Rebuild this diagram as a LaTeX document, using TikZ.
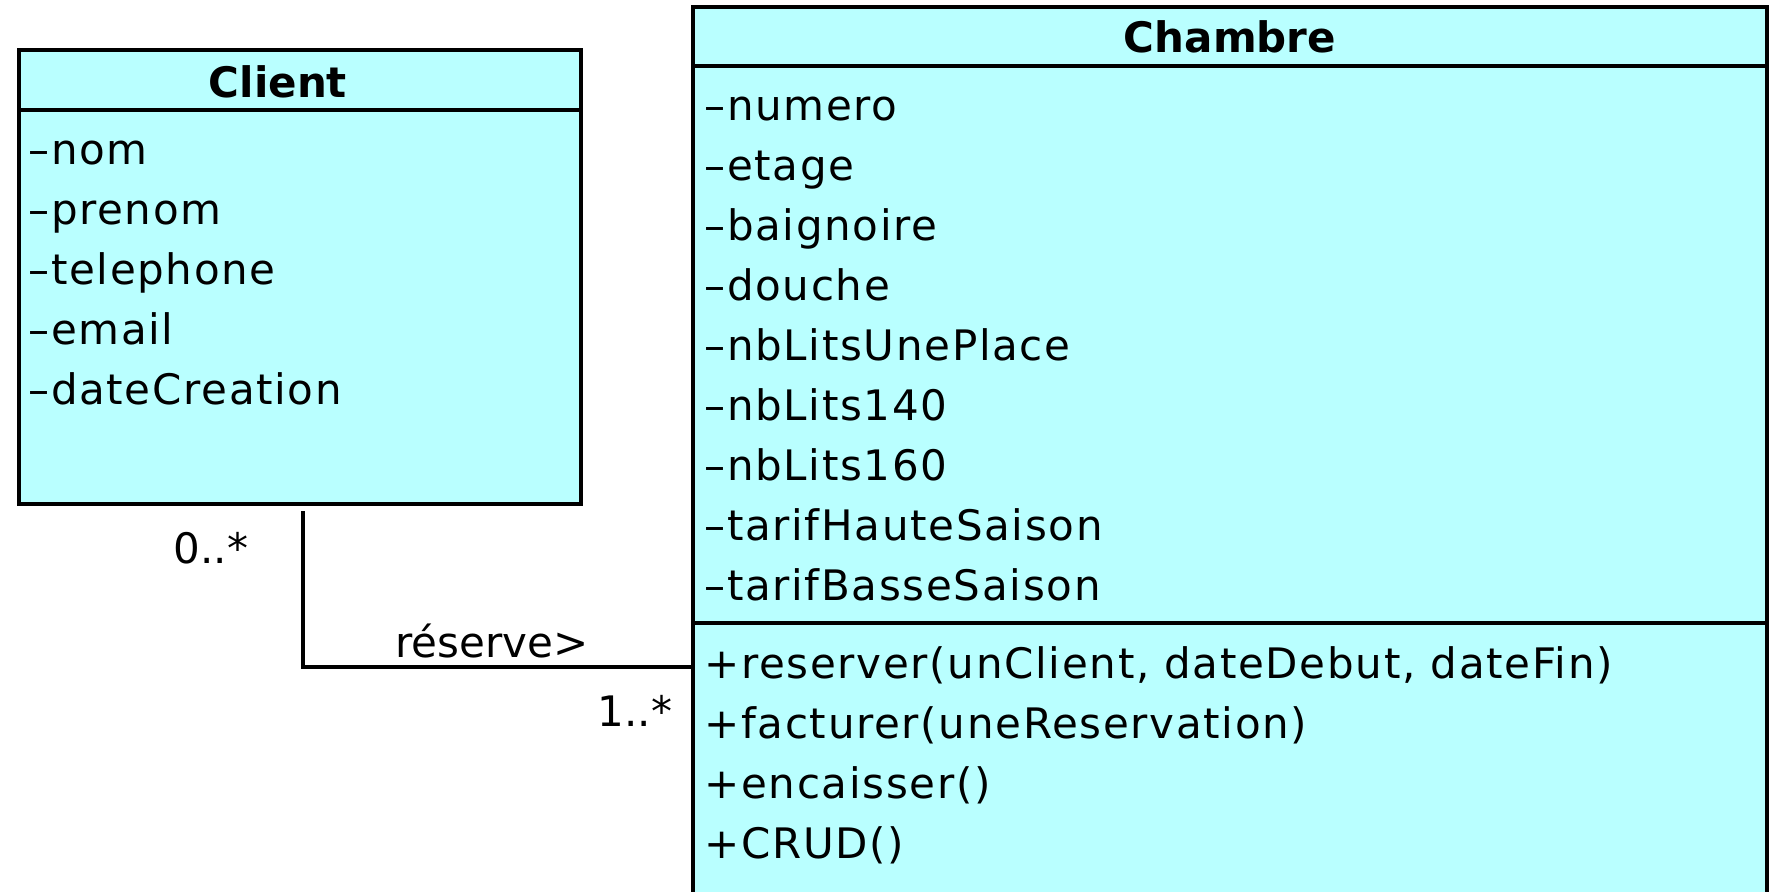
\documentclass[tikz,border=0pt]{standalone}
\usepackage{fontspec}
\setmainfont{DejaVu Sans}
\newfontfamily\memberfont[LetterSpace=4]{DejaVu Sans}
\usepackage{tikz}
\usetikzlibrary{positioning}
\definecolor{umlcyan}{RGB}{185,255,255}

\tikzset{
	classbox/.style={draw=black, fill=umlcyan, line width=1.8pt, inner sep=0pt},
	classname/.style={inner sep=0pt, font=\fontsize{21}{25}\selectfont\bfseries},
	member/.style={anchor=base west, inner sep=0pt, font=\memberfont\fontsize{21}{25}\selectfont},
	multlabel/.style={inner sep=0pt, font=\fontsize{21}{25}\selectfont},
	assoc/.style={draw=black, line width=1.8pt}
}

\begin{document}
\begin{tikzpicture}[x=0.5pt, y=-0.5pt]

		\useasboundingbox (0,0) rectangle (1778,891);
		\clip (0,0) rectangle (1778,891);

		\node[classbox, minimum width=281pt, minimum height=227pt] (client) at (300, 277) {};
		\node[classbox, minimum width=537pt, minimum height=471.5pt] (chambre) at (1230, 478.5) {};

		\draw[line width=1.8pt] (client.west |- 0,110) -- (client.east |- 0,110);
		\draw[line width=1.8pt] (chambre.west |- 0,66) -- (chambre.east |- 0,66);
		\draw[line width=1.8pt] (chambre.west |- 0,623) -- (chambre.east |- 0,623);

		\node[classname] (client-name)  at (278, 82) {Client};
		\node[classname] (chambre-name) at (1230, 37) {Chambre};

		\foreach \attr [count=\i] in {nom,prenom,telephone,email,dateCreation}
			\node[member] (client-attr-\i) at (28, 104+60*\i) {\textendash\attr};

		\foreach \attr [count=\i] in {numero,etage,baignoire,douche,nbLitsUnePlace,nbLits140,nbLits160,tarifHauteSaison,tarifBasseSaison}
			\node[member] (chambre-attr-\i) at (704, 60+60*\i) {\textendash\attr};

		\foreach \op [count=\i] in {{reserver(unClient, dateDebut, dateFin)},{facturer(uneReservation)},{encaisser()},{CRUD()}}
			\node[member] (chambre-op-\i) at (704, 618+60*\i) {+\op};

		\coordinate (assoc-start) at (303, 511);
		\coordinate (assoc-end) at (chambre.west |- 0,667);
		\draw[assoc] (assoc-start) |- (assoc-end);

		\node[multlabel] (mult-client)  at (211, 548) {0..*};
		\node[multlabel] (assoc-name)   at (492, 641) {réserve>};
		\node[multlabel] (mult-chambre) at (635, 711) {1..*};
		\end{tikzpicture}
\end{document}
